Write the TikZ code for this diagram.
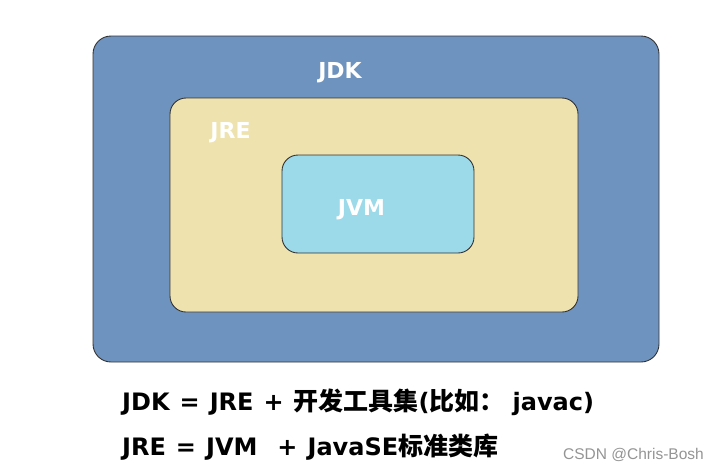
\documentclass[tikz,border=0pt]{standalone}
\usepackage{fontspec}
\setmainfont{DejaVu Sans}
\newfontfamily\cjk{Noto Sans CJK SC Bold}
\newfontfamily\wmfont{Liberation Sans}
\newcommand\zh[1]{{\cjk\fontsize{25}{29}\selectfont #1}}
\newcommand\eqfont{\bfseries\fontsize{24}{28}\selectfont\spaceskip=10pt\relax}
\begin{document}
\begin{tikzpicture}[x=1pt,y=-1pt,
		box/.style={draw=black!80,line width=0.9pt,rounded corners=#1},
		lbl/.style={anchor=base,text=white,font=\bfseries\fontsize{22}{26}\selectfont,inner sep=0pt},
		eq/.style={anchor=base west,font=\eqfont,inner sep=0pt}]
		\useasboundingbox (0,0) rectangle (714,469);
		\definecolor{jdkblue}{HTML}{6F93BF}
		\definecolor{jreyellow}{HTML}{EEE2AF}
		\definecolor{jvmcyan}{HTML}{9CD9E9}
		\draw[box=18pt,fill=jdkblue] (93,36) rectangle (659,362);
		\draw[box=16pt,fill=jreyellow] (170,98) rectangle (578,312);
		\draw[box=16pt,fill=jvmcyan] (282,155) rectangle (474,253);
		\node[lbl] (jdk) at (340,78) {JDK};
		\node[lbl] (jre) at (230.5,138) {JRE};
		\node[lbl] (jvm) at (361.5,215) {JVM};
		\node[eq] (l1) at (122,410) {JDK = JRE + \zh{开发工具集}(\zh{比如：}\hspace{8pt}javac)};
		\node[eq] (l2) at (122,455) {JRE = JVM \ + JavaSE\zh{标准类库}};
		\node[anchor=base west,text=black!42,font=\wmfont\fontsize{15.5}{18}\selectfont,inner sep=0pt] (mark) at (563,459) {CSDN @Chris-Bosh};
	\end{tikzpicture}
\end{document}
